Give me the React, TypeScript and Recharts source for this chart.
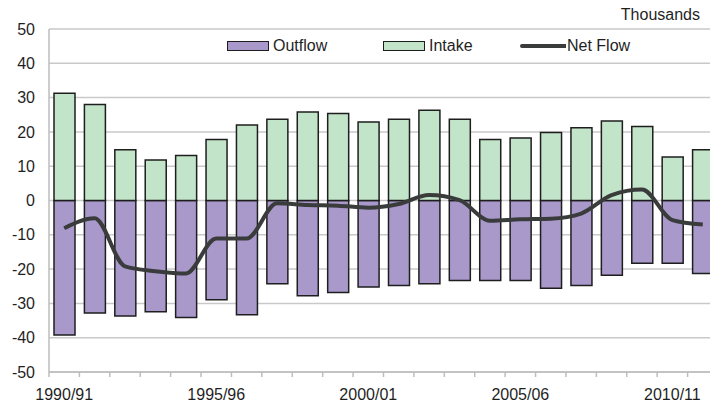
import React from "react";
import {
  ComposedChart,
  Bar,
  Line,
  XAxis,
  YAxis,
  CartesianGrid,
  Legend,
} from "recharts";

const years = [
  "1990/91", "1991/92", "1992/93", "1993/94", "1994/95", "1995/96",
  "1996/97", "1997/98", "1998/99", "1999/00", "2000/01", "2001/02",
  "2002/03", "2003/04", "2004/05", "2005/06", "2006/07", "2007/08",
  "2008/09", "2009/10", "2010/11", "2011/12",
];

const intake = [
  31.3, 28.0, 14.8, 11.8, 13.1, 17.8, 22.0, 23.7, 25.8, 25.4, 22.9,
  23.7, 26.3, 23.7, 17.8, 18.2, 19.8, 21.2, 23.2, 21.6, 12.7, 14.8,
];

const outflow = [
  -39.2, -32.8, -33.7, -32.4, -34.1, -28.9, -33.3, -24.3, -27.8, -26.8, -25.2,
  -24.8, -24.3, -23.3, -23.3, -23.3, -25.6, -24.8, -21.8, -18.3, -18.3, -21.3,
];

const netFlow = [
  -8.1, -5.2, -19.2, -20.6, -21.3, -11.1, -11.1, -0.8, -1.3, -1.5, -2.1,
  -1.0, 1.6, 0.1, -5.9, -5.5, -5.3, -3.8, 1.6, 3.2, -5.7, -7.0,
];

const yTicks = [-50, -40, -30, -20, -10, 0, 10, 20, 30, 40, 50];
const labelEvery = 5;

const data = years.map((year, i) => ({
  year,
  outflow: outflow[i],
  intake: intake[i],
  net: netFlow[i],
}));

const FONT = '"Liberation Sans", Arial, sans-serif';
const TEXT = "#1f1f1f";
const PURPLE = "#a999cb";
const GREEN = "#c2e4c9";
const BORDER = "#1e1e1e";
const LINE = "#3a3c3c";
const AXIS = "#bdbdbd";

function YearTick(props: any) {
  const { x, y, payload, index } = props;
  const half = payload?.offset || 15.2;
  return (
    <g>
      <line x1={x - half} x2={x - half} y1={y - 5} y2={y} stroke={AXIS} strokeWidth={1.5} />
      {index % labelEvery === 0 && (
        <text x={x} y={y + 23} textAnchor="middle" fill={TEXT} fontSize={16} fontFamily={FONT}>
          {payload.value}
        </text>
      )}
    </g>
  );
}

function KeyBox() {
  const item = { display: "flex", alignItems: "center" } as const;
  const swatch = (fill: string) => (
    <span
      style={{
        display: "inline-block",
        width: 40,
        height: 8,
        background: fill,
        border: `1.5px solid ${BORDER}`,
        marginRight: 4,
      }}
    />
  );
  return (
    <div style={{ display: "flex", fontFamily: FONT, fontSize: 16, color: TEXT, lineHeight: "18px" }}>
      <div style={{ ...item, width: 156 }}>
        {swatch(PURPLE)}
        Outflow
      </div>
      <div style={{ ...item, width: 137 }}>
        {swatch(GREEN)}
        Intake
      </div>
      <div style={item}>
        <span
          style={{
            display: "inline-block",
            width: 46,
            height: 4,
            background: LINE,
            borderRadius: "2px 0 0 2px",
            marginRight: 1,
          }}
        />
        Net Flow
      </div>
    </div>
  );
}

export default function App() {
  return (
    <div
      style={{
        position: "absolute",
        left: 0,
        top: 0,
        width: 710,
        height: 404,
        overflow: "hidden",
        background: "#fff",
      }}
    >
      <div
        style={{
          position: "absolute",
          right: 10,
          top: 7,
          fontFamily: FONT,
          fontSize: 16,
          lineHeight: "16px",
          color: TEXT,
        }}
      >
        Thousands
      </div>
      <ComposedChart
        width={720}
        height={404}
        data={data}
        stackOffset="sign"
        margin={{ top: 29, right: 2, bottom: 0, left: 0 }}
        style={{ fontFamily: FONT }}
      >
        <CartesianGrid vertical={false} stroke="#c9c9c9" strokeWidth={1.5} />
        <XAxis
          dataKey="year"
          interval={0}
          height={32}
          tickSize={5}
          tickMargin={0}
          tickLine={false}
          axisLine={{ stroke: AXIS, strokeWidth: 1.5 }}
          tick={<YearTick />}
        />
        <YAxis
          domain={[-50, 50]}
          ticks={yTicks}
          width={49}
          tickSize={0}
          tickMargin={14}
          tickLine={false}
          axisLine={{ stroke: AXIS, strokeWidth: 1.5 }}
          tick={{ fill: TEXT, fontSize: 16, fontFamily: FONT }}
        />
        <Legend
          layout="vertical"
          verticalAlign="middle"
          align="center"
          wrapperStyle={{ top: 37, left: 227, width: 440 }}
          content={() => <KeyBox />}
        />
        <Bar
          dataKey="outflow"
          stackId="flow"
          barSize={21}
          fill={PURPLE}
          stroke={BORDER}
          strokeWidth={1.5}
          isAnimationActive={false}
        />
        <Bar
          dataKey="intake"
          stackId="flow"
          barSize={21}
          fill={GREEN}
          stroke={BORDER}
          strokeWidth={1.5}
          isAnimationActive={false}
        />
        <Line
          dataKey="net"
          type="monotone"
          stroke={LINE}
          strokeWidth={4}
          dot={false}
          isAnimationActive={false}
        />
      </ComposedChart>
    </div>
  );
}
